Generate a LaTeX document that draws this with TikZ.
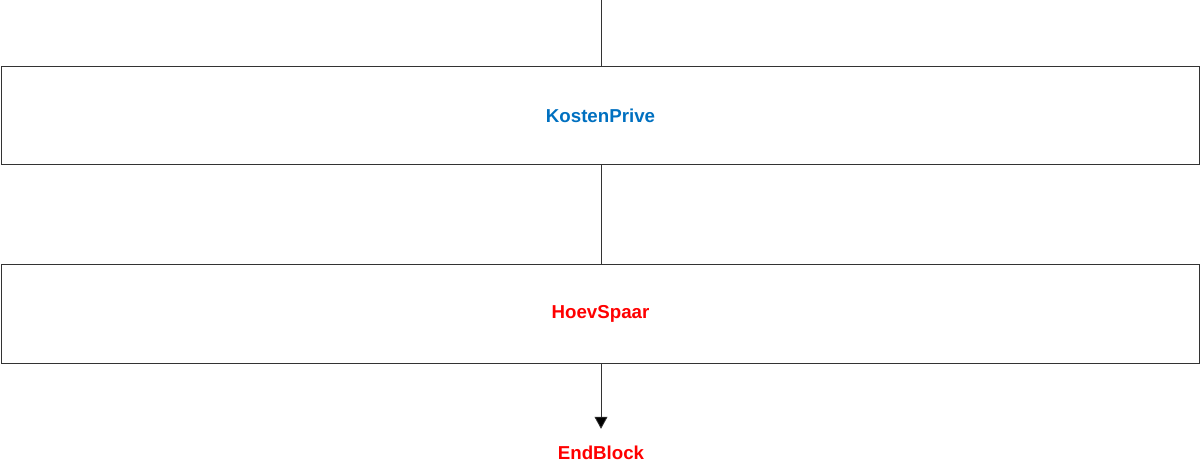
\documentclass[tikz,border=0pt]{standalone}
\usepackage{fontspec}
\setmainfont{Liberation Sans}
\usepackage{xcolor}
\usetikzlibrary{arrows.meta}

\definecolor{kostenblue}{RGB}{0,112,192}

\begin{document}
\begin{tikzpicture}[x=1pt,y=1pt,
    blok/.style={draw=black!80,line width=0.8pt,minimum width=1198pt,inner sep=0pt,
        font=\fontsize{18.7}{22}\selectfont\bfseries},
    lijn/.style={draw=black!80,line width=0.8pt}]
            \useasboundingbox (0,0) rectangle (1200,466);
            \coordinate (top) at (601,466);
            \node[blok,minimum height=98pt,text=kostenblue] (kosten) at (600.5,350.5) {KostenPrive};
            \node[blok,minimum height=99pt,text=red] (hoev) at (600.5,152) {HoevSpaar};
            \node[inner sep=0pt,minimum height=48pt,text=red,
                font=\fontsize{18.7}{22}\selectfont\bfseries] (endblock) at (601,13) {EndBlock};
            \draw[lijn] (top) -- (kosten.north -| top);
            \draw[lijn] (kosten.south -| top) -- (hoev.north -| top);
            \draw[lijn,-{Triangle[length=12pt,width=13pt,fill=black]}] (hoev.south -| top) -- (endblock.north);
        \end{tikzpicture}
\end{document}
